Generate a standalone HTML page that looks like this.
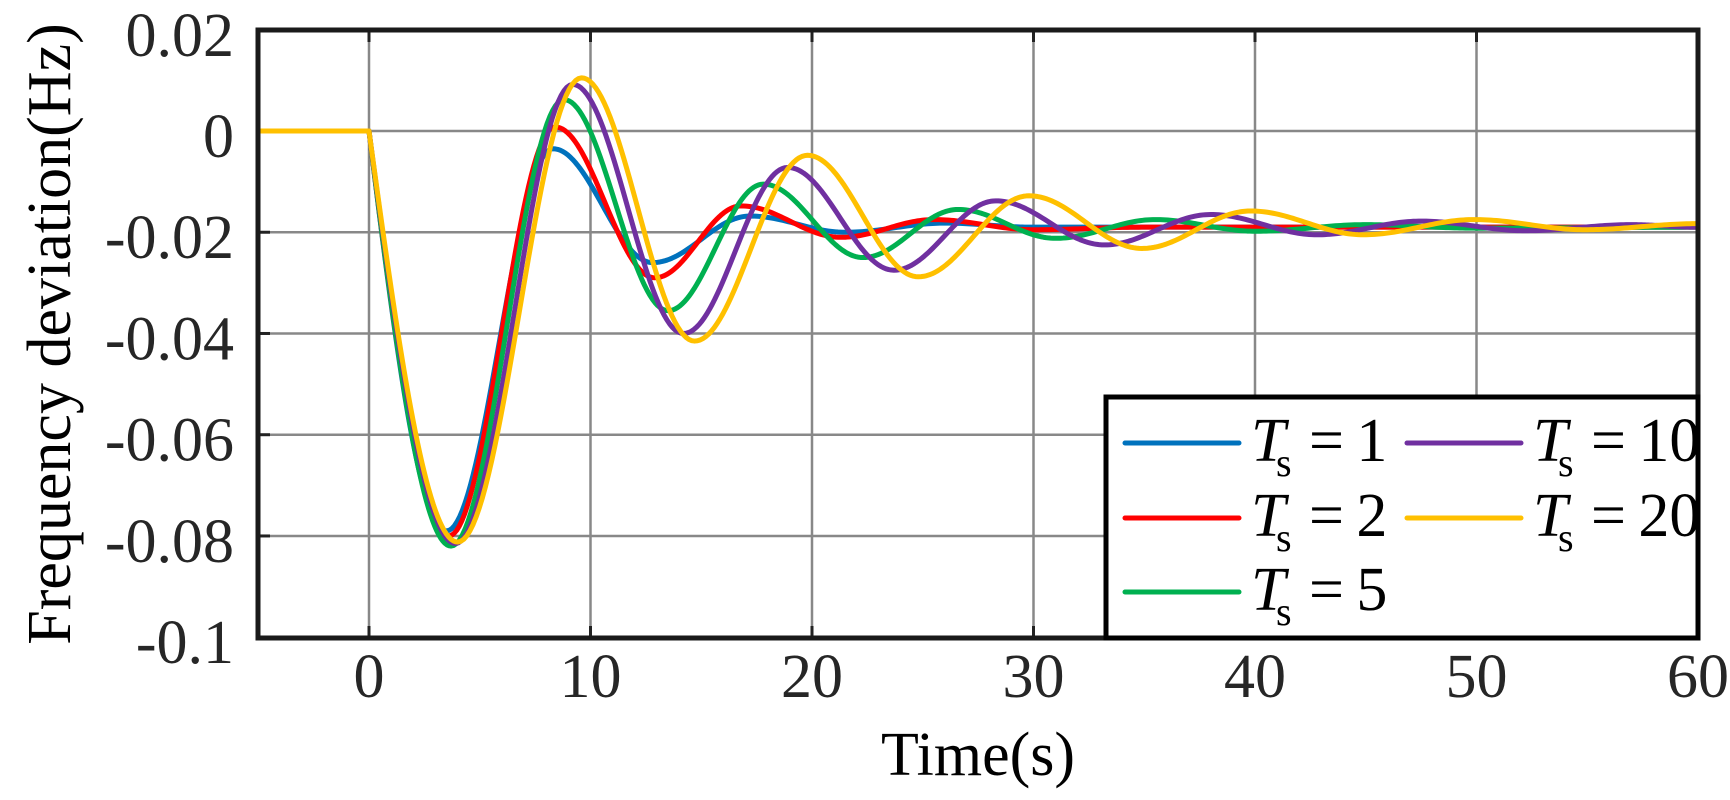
<!DOCTYPE html>
<html><head><meta charset="utf-8"><style>
html,body{margin:0;padding:0;background:#fff;}
svg{display:block;}
text{font-family:"Liberation Serif",serif;}
</style></head><body>
<svg id="s" width="1730" height="800" viewBox="0 0 1730 800" xmlns="http://www.w3.org/2000/svg">
<rect x="0" y="0" width="1730" height="800" fill="#fff"/>
<g id="grid" stroke="#888" stroke-width="2.5"></g>
<g id="curves" fill="none" stroke-width="5" stroke-linejoin="round" stroke-linecap="round"></g>
<rect x="258" y="30" width="1440" height="608" fill="none" stroke="#1a1a1a" stroke-width="5"/>
<g id="ticks" font-size="62" fill="#262626"></g>
<text x="978" y="775" font-size="62" text-anchor="middle" fill="#000">Time(s)</text>
<text transform="translate(70,334) rotate(-90)" font-size="62" text-anchor="middle" fill="#000">Frequency deviation(Hz)</text>
<rect x="1106" y="397" width="592" height="241" fill="#fff" stroke="#000" stroke-width="5"/>
<g id="legend" font-size="62" fill="#000"></g>
</svg>
<script>
var NS="http://www.w3.org/2000/svg";
function X(t){return 369+22.15*t;}
function Y(v){return 131-5062*v;}
function el(tag,attrs,parent,txt){var e=document.createElementNS(NS,tag);for(var k in attrs)e.setAttribute(k,attrs[k]);if(txt!==undefined)e.textContent=txt;parent.appendChild(e);return e;}
var grid=document.getElementById('grid'),ticks=document.getElementById('ticks');
for(var t=0;t<=50;t+=10){el('line',{x1:X(t),y1:30,x2:X(t),y2:638},grid);
 el('line',{x1:X(t),y1:30,x2:X(t),y2:42,stroke:'#222','stroke-width':3},grid);
 el('line',{x1:X(t),y1:626,x2:X(t),y2:638,stroke:'#222','stroke-width':3},grid);}
for(var t=0;t<=60;t+=10){el('text',{x:X(t),y:697,'text-anchor':'middle'},ticks,String(t));}
var yl=[[0.02,'0.02'],[0,'0'],[-0.02,'-0.02'],[-0.04,'-0.04'],[-0.06,'-0.06'],[-0.08,'-0.08'],[-0.1,'-0.1']];
yl.forEach(function(p){var y=Y(p[0]);
 if(p[0]<0.015&&p[0]>-0.095){el('line',{x1:258,y1:y,x2:1698,y2:y},grid);
  el('line',{x1:258,y1:y,x2:270,y2:y,stroke:'#222','stroke-width':3},grid);}
 el('text',{x:234,y:y+26,'text-anchor':'end'},ticks,p[1]);});
var series=[
 ['#0072BD',[[0,0],[3.5,-0.079],[8.3,-0.0035],[12.8,-0.026],[17.2,-0.0168],[21.5,-0.020],[26,-0.0182],[30,-0.019],[60,-0.019]]],
 ['#FF0000',[[0,0],[3.6,-0.080],[8.4,0.0008],[12.9,-0.029],[16.8,-0.0148],[21.3,-0.021],[25.5,-0.0175],[30,-0.0195],[35,-0.019],[60,-0.019]]],
 ['#00B050',[[0,0],[3.7,-0.082],[8.8,0.0062],[13.5,-0.0355],[17.8,-0.0105],[22.3,-0.025],[26.6,-0.0155],[31,-0.0212],[35.5,-0.0175],[40,-0.0198],[45,-0.0185],[50,-0.0192],[60,-0.019]]],
 ['#7030A0',[[0,0],[3.9,-0.0815],[9.2,0.0092],[14.2,-0.040],[18.9,-0.0072],[23.7,-0.0275],[28.3,-0.0138],[33.2,-0.0225],[38,-0.0165],[42.8,-0.0205],[47.5,-0.0178],[52.2,-0.0197],[57,-0.0185],[60,-0.019]]],
 ['#FFC000',[[0,0],[4,-0.0812],[9.6,0.0105],[14.7,-0.0415],[19.8,-0.0048],[24.8,-0.0288],[29.8,-0.0128],[34.9,-0.0232],[39.8,-0.0158],[44.9,-0.0205],[49.9,-0.0175],[54.9,-0.0195],[60,-0.0183]]]
];
var cg=document.getElementById('curves');
series.forEach(function(s){var pts=s[1];var d='M'+X(-5)+','+Y(0)+' L'+X(0)+','+Y(0);
 for(var i=0;i<pts.length-1;i++){var a=pts[i],b=pts[i+1];var n=40;
  for(var j=1;j<=n;j++){var f=j/n;var t=a[0]+(b[0]-a[0])*f;
   var g=(i==0)?Math.sin(Math.PI*f/2):(1-Math.cos(Math.PI*f))/2;
   var v=a[1]+(b[1]-a[1])*g;
   d+=' L'+X(t).toFixed(2)+','+Y(v).toFixed(2);}}
 el('path',{d:d,stroke:s[0]},cg);});
var lg=document.getElementById('legend');
var items=[['#0072BD','=\u20091',1125,443],['#FF0000','=\u20092',1125,518],['#00B050','=\u20095',1125,592],['#7030A0','=\u200910',1407,443],['#FFC000','=\u200920',1407,518]];
items.forEach(function(it){var x=it[2],y=it[3];
 el('line',{x1:x,y1:y,x2:x+114,y2:y,stroke:it[0],'stroke-width':5,'stroke-linecap':'round'},lg);
 el('text',{x:x+126,y:y+18,'font-style':'italic'},lg,'T');
 el('text',{x:x+151,y:y+33,'font-size':40},lg,'s');
 el('text',{x:x+184,y:y+18},lg,it[1]);});
</script>
</body></html>
